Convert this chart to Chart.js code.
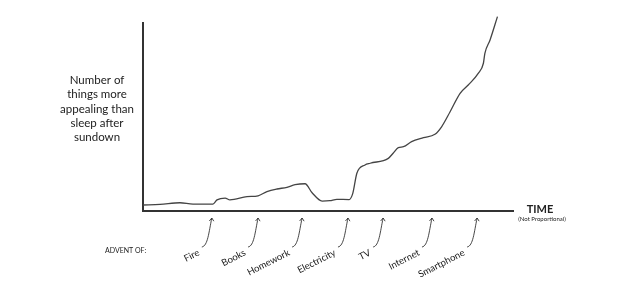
<!DOCTYPE html>
<html><head><meta charset="utf-8">
<script src="https://cdn.jsdelivr.net/npm/chart.js@4"></script>
<style>html,body{margin:0;padding:0;background:#fff;}#wrap{width:636px;height:287px;}</style>
</head><body><div id="wrap"><canvas id="c" width="636" height="287"></canvas></div>
<script>
// Curve: time (arbitrary units, not proportional) vs number of things
const timeValues = [0, 4.6, 10.0, 13.5, 18.9, 20.0, 22.2, 23.5, 28.1, 31.1, 33.5, 36.2, 38.9, 41.1, 43.8, 45.7, 48.4, 50.5, 52.4, 55.7, 56.7, 57.8, 60.0, 61.4, 66.3, 67.6, 69.0, 70.4, 72.6, 75.8, 78.9, 80.7, 83.0, 85.7, 87.9, 90.6, 92.0, 92.4, 93.8, 95.8];
const thingValues = [3.2, 3.5, 4.4, 3.7, 3.7, 5.9, 6.9, 5.9, 7.6, 8.1, 10.3, 11.7, 12.6, 14.0, 14.5, 9.7, 5.3, 5.5, 6.2, 6.1, 9.4, 20.1, 24.5, 25.4, 28.0, 30.7, 33.7, 34.2, 36.9, 39.0, 40.8, 44.8, 52.8, 62.6, 67.0, 73.2, 78.6, 83.9, 91.0, 103.4];
const eventLabels = ["Fire", "Books", "Homework", "Electricity", "TV", "Internet", "Smartphone"];
const eventTimes = [18.6, 31.1, 43.0, 55.4, 64.9, 78.1, 90.3];
const yTitleLines = ["Number of", "things more", "appealing than", "sleep after", "sundown"];
const xTitle = "TIME";
const xSubtitle = "(Not Proportional)";
const adventLabel = "ADVENT OF:";

const points = timeValues.map((t, i) => ({x: t, y: thingValues[i]}));
const FONT = "Lato, 'Open Sans', sans-serif";
const INK = "#222";

const annot = {
  id: 'annot',
  afterDraw(chart) {
    const ctx = chart.ctx, xs = chart.scales.x, ca = chart.chartArea;
    ctx.save();
    ctx.fillStyle = INK;
    // y title
    ctx.font = "11.5px " + FONT;
    ctx.textAlign = "center"; ctx.textBaseline = "middle";
    const cy = (ca.top + ca.bottom) / 2 - 8;
    yTitleLines.forEach((l, i) => ctx.fillText(l, ca.left - 46, cy + (i - 2) * 14.3));
    // x title
    ctx.font = "bold 11px " + FONT;
    ctx.fillText(xTitle, ca.right + 27, ca.bottom - 2);
    ctx.font = "6px " + FONT;
    ctx.fillText(xSubtitle, ca.right + 29, ca.bottom + 8);
    // advent
    ctx.font = "7px " + FONT;
    ctx.textAlign = "left";
    ctx.fillText(adventLabel, ca.left - 38, ca.bottom + 40);
    // events
    ctx.strokeStyle = "#333"; ctx.lineWidth = 0.9;
    eventLabels.forEach((lab, i) => {
      const tx = xs.getPixelForValue(eventTimes[i]);
      const ty = ca.bottom + 7;
      const sx = tx - 10, sy = ty + 29;
      ctx.beginPath();
      ctx.moveTo(sx, sy);
      ctx.bezierCurveTo(tx - 4, sy - 1, tx - 3, ty + 14, tx, ty);
      ctx.stroke();
      ctx.beginPath();
      ctx.moveTo(tx - 2.5, ty + 3); ctx.lineTo(tx, ty); ctx.lineTo(tx + 2, ty + 3.2);
      ctx.stroke();
      ctx.save();
      ctx.translate(sx - 3, sy + 5);
      ctx.rotate(-27 * Math.PI / 180);
      ctx.font = "9.5px " + FONT;
      ctx.textAlign = "right"; ctx.textBaseline = "middle";
      ctx.fillText(lab, 0, 0);
      ctx.restore();
    });
    ctx.restore();
  }
};

new Chart(document.getElementById('c'), {
  type: 'line',
  data: { datasets: [{ data: points, borderColor: '#444', borderWidth: 1.3, pointRadius: 0, cubicInterpolationMode: 'monotone', clip: false, fill: false }] },
  options: {
    responsive: false, animation: false,
    layout: { padding: { left: 143, right: 123, top: 23, bottom: 76 } },
    plugins: { legend: { display: false }, tooltip: { enabled: false } },
    scales: {
      x: { type: 'linear', min: 0, max: 100, grid: { display: false, drawTicks: false }, ticks: { display: false },
           border: { display: true, color: '#333', width: 2 }, afterFit: s => { s.height = 0; } },
      y: { min: 0, max: 100, grid: { display: false, drawTicks: false }, ticks: { display: false },
           border: { display: true, color: '#333', width: 2 }, afterFit: s => { s.width = 0; } }
    }
  },
  plugins: [annot]
});
</script></body></html>
